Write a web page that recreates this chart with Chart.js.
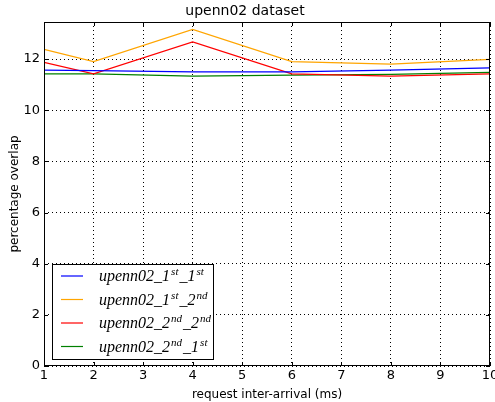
<!DOCTYPE html>
<html>
<head>
<meta charset="utf-8">
<script src="https://cdn.jsdelivr.net/npm/chart.js@4/dist/chart.umd.min.js"></script>
<style>
html, body { margin: 0; padding: 0; background: #fff; }
#wrap { width: 495px; height: 402px; }
</style>
</head>
<body>
<div id="wrap"><canvas id="myChart" width="495" height="402"></canvas></div>
<script>
// request inter-arrival times (ms)
const arrivals = [1, 2, 4, 6, 8, 10];
// percentage overlap per trace pair
const first_first   = [11.57, 11.55, 11.50, 11.50, 11.57, 11.66];
const first_second  = [12.38, 11.90, 13.16, 11.90, 11.80, 11.99];
const second_second = [11.87, 11.42, 12.67, 11.42, 11.33, 11.42];
const second_first  = [11.42, 11.42, 11.33, 11.37, 11.40, 11.48];
const yTicks = [0, 2, 4, 6, 8, 10, 12];
const xTicks = [1, 2, 3, 4, 5, 6, 7, 8, 9, 10];
// legend text pieces: [base, sup, sep, sup]
const legendParts = [
    ["upenn02_1", "st", "_1", "st"],
    ["upenn02_1", "st", "_2", "nd"],
    ["upenn02_2", "nd", "_2", "nd"],
    ["upenn02_2", "nd", "_1", "st"]
];

function toPoints(values)
{
    return values.map(function(v, i) { return {x: arrivals[i], y: v}; });
}

function makeSet(label, values, color)
{
    return {
        label: label,
        data: toPoints(values),
        borderColor: color,
        backgroundColor: color,
        borderWidth: 1.2,
        pointRadius: 0,
        tension: 0
    };
}

// frame, inward ticks and the boxed legend
const framePlugin = {
    id: 'frame',
    afterDatasetsDraw: function(chart)
    {
        const ctx = chart.ctx;
        const a = chart.chartArea;
        const xs = chart.scales.x;
        const ys = chart.scales.y;
        ctx.save();
        ctx.strokeStyle = '#000';
        ctx.lineWidth = 1;
        ctx.setLineDash([]);
        ctx.strokeRect(a.left + 0.5, a.top + 0.5, a.right - a.left - 1, a.bottom - a.top - 1);
        ctx.beginPath();
        xTicks.forEach(function(t) {
            const px = Math.round(xs.getPixelForValue(t)) + 0.5;
            ctx.moveTo(px, a.bottom); ctx.lineTo(px, a.bottom - 4);
            ctx.moveTo(px, a.top); ctx.lineTo(px, a.top + 4);
        });
        yTicks.forEach(function(t) {
            const py = Math.round(ys.getPixelForValue(t)) + 0.5;
            ctx.moveTo(a.left, py); ctx.lineTo(a.left + 4, py);
            ctx.moveTo(a.right, py); ctx.lineTo(a.right - 4, py);
        });
        ctx.stroke();

        // legend
        const bx = 52, by = 264, bw = 161, bh = 95;
        ctx.fillStyle = '#fff';
        ctx.fillRect(bx, by, bw, bh);
        ctx.strokeRect(bx + 0.5, by + 0.5, bw, bh);
        chart.data.datasets.forEach(function(ds, i) {
            const y = by + 12 + i * 23.5;
            ctx.strokeStyle = ds.borderColor;
            ctx.lineWidth = 1.2;
            ctx.beginPath();
            ctx.moveTo(61, y); ctx.lineTo(83, y);
            ctx.stroke();
            const p = legendParts[i];
            let x = 99;
            ctx.fillStyle = '#000';
            ctx.textBaseline = 'alphabetic';
            ctx.textAlign = 'left';
            const big = 'italic 16px "Liberation Serif"';
            const small = 'italic 11px "Liberation Serif"';
            ctx.font = big; ctx.fillText(p[0], x, y + 5); x += ctx.measureText(p[0]).width + 1;
            ctx.font = small; ctx.fillText(p[1], x, y - 1); x += ctx.measureText(p[1]).width + 1;
            ctx.font = big; ctx.fillText(p[2], x, y + 5); x += ctx.measureText(p[2]).width + 1;
            ctx.font = small; ctx.fillText(p[3], x, y - 1);
        });
        ctx.restore();
    }
};

const ctx = document.getElementById('myChart').getContext('2d');
const myChart = new Chart(ctx, {
    type: 'line',
    data: {
        datasets: [
            makeSet('upenn02_1st_1st', first_first, '#0000ff'),
            makeSet('upenn02_1st_2nd', first_second, '#ffa500'),
            makeSet('upenn02_2nd_2nd', second_second, '#ff0000'),
            makeSet('upenn02_2nd_1st', second_first, '#008000')
        ]
    },
    plugins: [framePlugin],
    options: {
        responsive: false,
        animation: false,
        layout: { padding: { left: 0, right: 5, top: 0, bottom: 0 } },
        plugins: {
            legend: { display: false },
            tooltip: { enabled: false },
            title: {
                display: true,
                text: 'upenn02 dataset',
                color: '#000',
                font: { family: '"DejaVu Sans"', size: 14, weight: 'normal' },
                padding: { top: 3, bottom: 2.2 }
            }
        },
        scales: {
            x: {
                type: 'linear',
                min: 1,
                max: 10,
                afterBuildTicks: function(scale) { scale.ticks = xTicks.map(function(v) { return {value: v}; }); },
                afterFit: function(scale) { scale.height = 36; scale.paddingLeft = 0; scale.paddingRight = 0; },
                ticks: { color: '#000', font: { family: '"DejaVu Sans"', size: 13 }, padding: 2, maxRotation: 0 },
                grid: { color: '#000', drawTicks: false, lineWidth: 1 },
                border: { display: false, dash: [1, 3] },
                title: { display: true, text: 'request inter-arrival (ms)', color: '#000', font: { family: '"DejaVu Sans"', size: 12 }, padding: { top: 1, bottom: 0 } }
            },
            y: {
                min: 0,
                max: 13.45,
                afterBuildTicks: function(scale) { scale.ticks = yTicks.map(function(v) { return {value: v}; }); },
                afterFit: function(scale) { scale.width = 44; },
                ticks: { color: '#000', font: { family: '"DejaVu Sans"', size: 13 }, padding: 4 },
                grid: { color: '#000', drawTicks: false, lineWidth: 1 },
                border: { display: false, dash: [1, 3] },
                title: { display: true, text: 'percentage overlap', color: '#000', font: { family: '"DejaVu Sans"', size: 12 }, padding: { top: 8, bottom: 0 } }
            }
        }
    }
});
</script>
</body>
</html>
